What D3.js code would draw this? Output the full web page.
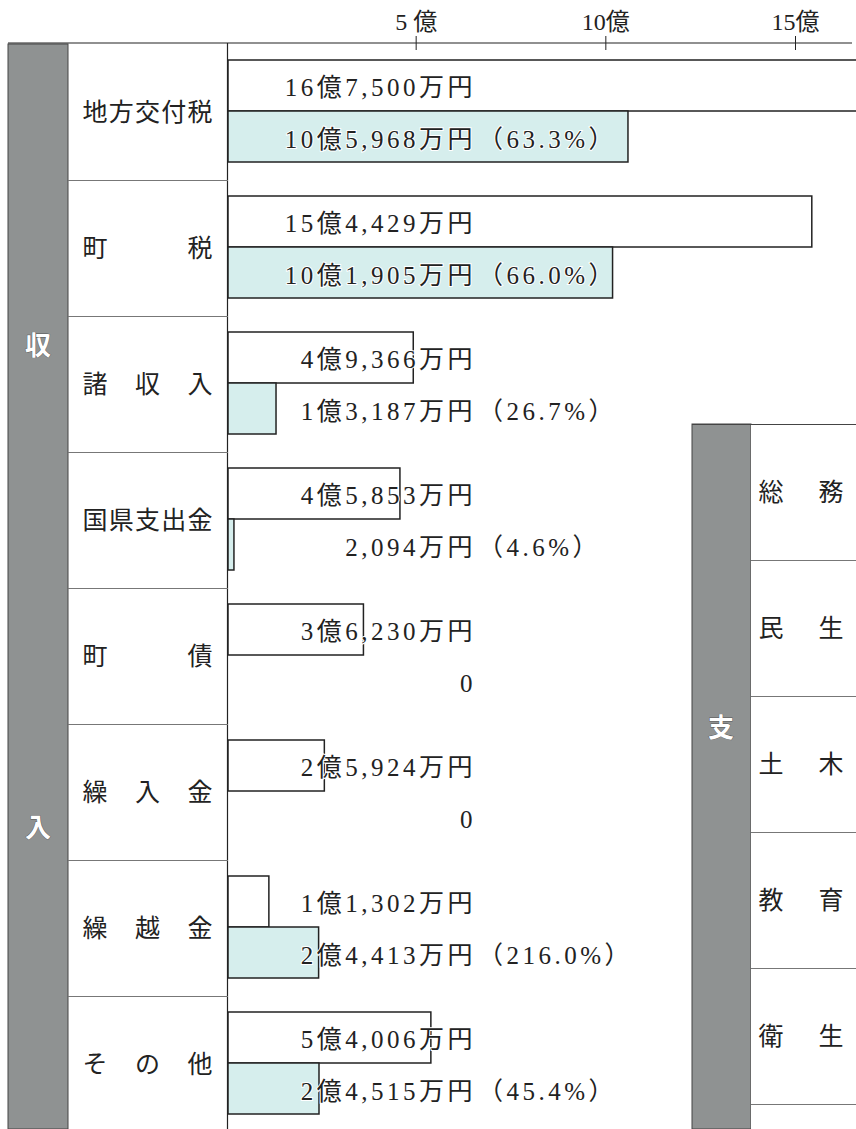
<!DOCTYPE html>
<html>
<head>
<meta charset="utf-8">
<style>
  body { margin: 0; background: #fff; }
  svg { display: block; }
  .jp { font-family: "Noto Sans CJK JP", sans-serif; }
  .num { font-family: "Liberation Serif", "Noto Sans CJK JP", serif; }
</style>
<script src="https://d3js.org/d3.v7.min.js"></script>
</head>
<body>
<svg id="chart"></svg>
<script>
var W = 856, H = 1129;

// 収入 (億円)
var categories = ['地方交付税', '町税', '諸収入', '国県支出金', '町債', '繰入金', '繰越金', 'その他'];
var budget = [16.75, 15.4429, 4.9366, 4.5853, 3.6230, 2.5924, 1.1302, 5.4006];
var actual = [10.5968, 10.1905, 1.3187, 0.2094, 0, 0, 2.4413, 2.4515];
var budgetLabels = ['16億7,500万円', '15億4,429万円', '4億9,366万円', '4億5,853万円',
                    '3億6,230万円', '2億5,924万円', '1億1,302万円', '5億4,006万円'];
var actualLabels = ['10億5,968万円', '10億1,905万円', '1億3,187万円', '2,094万円',
                    '0', '0', '2億4,413万円', '2億4,515万円'];
var ratioLabels = ['（63.3%）', '（66.0%）', '（26.7%）', '（4.6%）', '', '', '（216.0%）', '（45.4%）'];

var tickValues = [5, 10, 15];
var tickLabels = ['5 億', '10億', '15億'];

// 支出 (右側、途中で切れている)
var expenseCategories = ['総務', '民生', '土木', '教育', '衛生', ''];

var svg = d3.select('#chart').attr('width', W).attr('height', H);

var gray = '#8f9292', cyan = '#d6eeed', ink = '#222';

var x = d3.scaleLinear().domain([0, 15]).range([226, 795]);
var y = d3.scaleBand().domain(categories).range([44, 44 + 136 * categories.length]);

// left panel frame
svg.append('rect').attr('x', 8).attr('y', 44).attr('width', 60).attr('height', H - 44)
    .attr('fill', gray).attr('stroke', '#444').attr('stroke-width', 1);
svg.append('line').attr('x1', 227.5).attr('x2', 227.5).attr('y1', 43).attr('y2', H)
    .attr('stroke', ink).attr('stroke-width', 1.2);

// row separators
svg.selectAll('line.sep').data(categories.slice(1)).enter().append('line')
    .attr('class', 'sep')
    .attr('x1', 68).attr('x2', 228)
    .attr('y1', function (d) { return y(d) + 0.5; })
    .attr('y2', function (d) { return y(d) + 0.5; })
    .attr('stroke', '#777').attr('stroke-width', 1);

// axis on top
var axis = d3.axisTop(x).tickValues(tickValues).tickSize(0)
    .tickFormat(function (d, i) { return tickLabels[i]; });
var ax = svg.append('g').attr('transform', 'translate(0,43)').call(axis);
ax.select('.domain').remove();
ax.append('line').attr('x1', 8).attr('x2', 852).attr('y1', 0).attr('y2', 0)
    .attr('stroke', ink).attr('stroke-width', 1.2);
ax.selectAll('.tick').append('line').attr('y1', -7).attr('y2', 7)
    .attr('stroke', ink).attr('stroke-width', 1);
ax.selectAll('.tick text')
    .attr('class', 'num').attr('y', -13).attr('fill', '#222')
    .attr('font-size', 24).style('font-size', '24px');

// bars
var bars = svg.append('g');
bars.selectAll('rect.budget').data(categories).enter().append('rect')
    .attr('class', 'budget')
    .attr('x', x(0) + 2)
    .attr('y', function (d) { return y(d) + 16; })
    .attr('width', function (d, i) { return x(budget[i]) - x(0) - 2; })
    .attr('height', 51)
    .attr('fill', '#fff').attr('stroke', ink).attr('stroke-width', 1.5);
bars.selectAll('rect.actual').data(categories).enter().append('rect')
    .filter(function (d, i) { return actual[i] > 0; })
    .attr('class', 'actual')
    .attr('x', x(0) + 2)
    .attr('y', function (d) { return y(d) + 67; })
    .attr('width', function (d) { var i = categories.indexOf(d); return x(actual[i]) - x(0) - 2; })
    .attr('height', 51)
    .attr('fill', cyan).attr('stroke', ink).attr('stroke-width', 1.5);

// value labels
var labelX = 476;
function valueText(cls, arr, dy, anchor, xx) {
    svg.selectAll('text.' + cls).data(categories).enter().append('text')
        .attr('class', 'num ' + cls)
        .attr('x', xx)
        .attr('y', function (d) { return y(d) + dy; })
        .attr('text-anchor', anchor)
        .attr('fill', '#222')
        .attr('stroke', '#fff').attr('stroke-width', 2).attr('paint-order', 'stroke')
        .style('font-size', '25px').style('letter-spacing', '3.5px')
        .text(function (d, i) { return arr[i]; });
}
valueText('bl', budgetLabels, 52, 'end', labelX);
valueText('al', actualLabels, 104, 'end', labelX);
valueText('rl', ratioLabels, 104, 'start', labelX + 2);

// category labels, spread across the cell
function spread(sel, xs, xe) {
    sel.each(function (d) {
        var chars = Array.from(d), n = chars.length;
        var g = d3.select(this);
        chars.forEach(function (c, k) {
            g.append('text')
                .attr('x', n === 1 ? xs : xs + (xe - xs) * k / (n - 1))
                .attr('text-anchor', 'middle')
                .text(c);
        });
    });
}
var catG = svg.selectAll('g.cat').data(categories).enter().append('g')
    .attr('class', 'cat jp')
    .attr('transform', function (d) { return 'translate(0,' + (y(d) + 68 + 9) + ')'; })
    .attr('fill', '#222').style('font-size', '25px');
spread(catG, 95, 200);

// side titles
function sideChar(c, cx, cy) {
    svg.append('text').attr('class', 'jp').attr('x', cx).attr('y', cy + 9)
        .attr('text-anchor', 'middle').attr('fill', '#fff')
        .attr('stroke', '#555').attr('stroke-width', 0.8).attr('paint-order', 'stroke')
        .style('font-size', '26px').style('font-weight', 'bold').text(c);
}
sideChar('収', 38, 346);
sideChar('入', 38, 828);

// right panel (支出)
var y2 = d3.scaleBand().domain(d3.range(expenseCategories.length)).range([424, 424 + 136 * expenseCategories.length]);
svg.append('rect').attr('x', 692).attr('y', 424).attr('width', 59).attr('height', H - 424)
    .attr('fill', gray).attr('stroke', '#444').attr('stroke-width', 1);
svg.append('line').attr('x1', 692).attr('x2', W).attr('y1', 424.5).attr('y2', 424.5)
    .attr('stroke', '#444').attr('stroke-width', 1);
svg.append('rect').attr('x', 751).attr('y', 425).attr('width', W - 751).attr('height', H - 425)
    .attr('fill', '#fff');
svg.selectAll('line.sep2').data(d3.range(1, expenseCategories.length)).enter().append('line')
    .attr('class', 'sep2')
    .attr('x1', 751).attr('x2', W)
    .attr('y1', function (d) { return y2(d) + 0.5; })
    .attr('y2', function (d) { return y2(d) + 0.5; })
    .attr('stroke', '#777').attr('stroke-width', 1);
var expG = svg.selectAll('g.exp').data(expenseCategories.filter(function (d) { return d; }))
    .enter().append('g')
    .attr('class', 'exp jp')
    .attr('transform', function (d, i) { return 'translate(0,' + (y2(i) + 68 + 9) + ')'; })
    .attr('fill', '#222').style('font-size', '25px');
spread(expG, 771, 831);
sideChar('支', 721, 728);
</script>
</body>
</html>
